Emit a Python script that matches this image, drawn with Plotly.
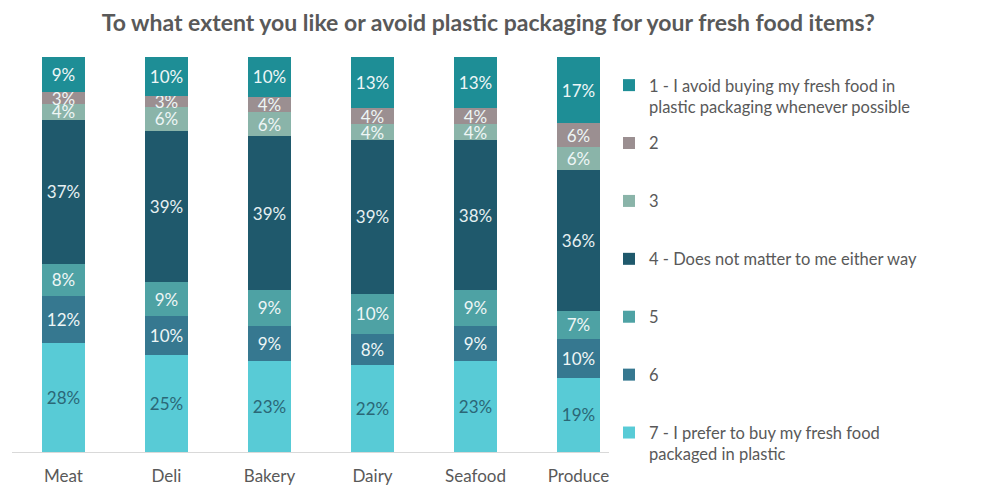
import plotly.graph_objects as go

categories = ["Meat", "Deli", "Bakery", "Dairy", "Seafood", "Produce"]
series_names = [
    "1 - I avoid buying my fresh food in<br>plastic packaging whenever possible",
    "2<br> ",
    "3<br> ",
    "4 - Does not matter to me either way<br> ",
    "5<br> ",
    "6<br> ",
    "7 - I prefer to buy my fresh food<br>packaged in plastic",
]
s1 = [9, 10, 10, 13, 13, 17]
s2 = [3, 3, 4, 4, 4, 6]
s3 = [4, 6, 6, 4, 4, 6]
s4 = [37, 39, 39, 39, 38, 36]
s5 = [8, 9, 9, 10, 9, 7]
s6 = [12, 10, 9, 8, 9, 10]
s7 = [28, 25, 23, 22, 23, 19]
series_values = [s1, s2, s3, s4, s5, s6, s7]
colors = ["#1e8e96", "#9b8f91", "#8ab4a9", "#1f596c", "#4ea2a4", "#367890", "#58cbd6"]
text_colors = ["#eef6f6", "#eef6f6", "#eef6f6", "#e6f0f2", "#eef6f6", "#eef6f6", "#2b6776"]

fig = go.Figure()
# bottom of stack first (7), top last (1)
for i in range(6, -1, -1):
    vals = series_values[i]
    fig.add_trace(go.Bar(
        x=categories, y=vals, name=series_names[i],
        marker=dict(color=colors[i], line=dict(width=0)),
        text=[f"{v}%" for v in vals], textposition="inside",
        insidetextanchor="middle", textangle=0,
        textfont=dict(size=17, color=text_colors[i], family="Lato, sans-serif"),
        legendgroup=f"g{i}", legendrank=i + 1,
    ))

fig.update_layout(
    barmode="stack", barnorm="percent",
    width=982, height=487,
    margin=dict(l=4, r=360, t=49, b=43, autoexpand=False),
    paper_bgcolor="white", plot_bgcolor="white",
    bargap=0.59,
    uniformtext=dict(minsize=17, mode="show"),
    font=dict(family="Lato, sans-serif", color="#595959", size=17),
    title=dict(text="To what extent you like or avoid plastic packaging for your fresh food items?",
               x=0.489, xref="container", xanchor="center", y=0.97, yref="container", yanchor="middle",
               font=dict(size=23, color="#595959", family="Lato, sans-serif", weight="bold")),
    legend=dict(x=0.966, xanchor="left", y=0.877, yref="container", yanchor="top",
                traceorder="grouped", tracegroupgap=12, valign="top",
                font=dict(size=16.5, color="#595959"), itemwidth=30, maxheight=480),
    xaxis=dict(showline=True, linecolor="#d9d9d9", linewidth=1, ticks="outside",
               ticklen=9, tickcolor="rgba(0,0,0,0)",
               tickfont=dict(size=17, color="#595959"), showgrid=False),
    yaxis=dict(visible=False, range=[0, 100], showgrid=False),
)
fig.write_html("out.html")
